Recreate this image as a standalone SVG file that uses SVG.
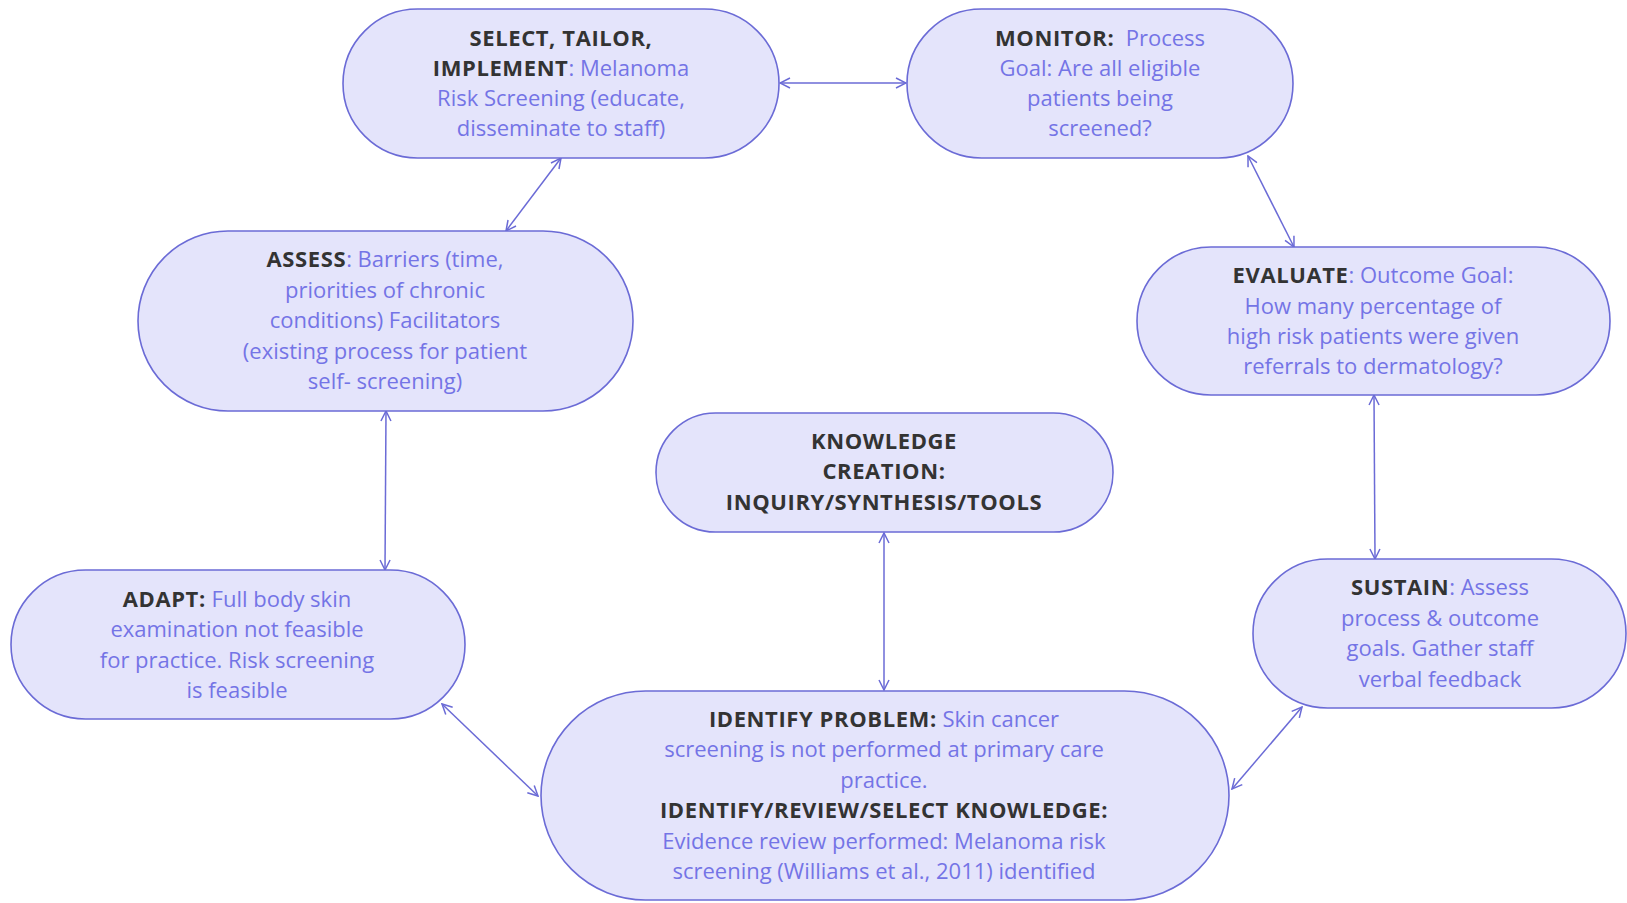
<svg xmlns="http://www.w3.org/2000/svg" width="1627" height="903" viewBox="0 0 1627 903">
<defs>
<marker id="arr" viewBox="0 0 12 12" refX="11" refY="6" markerWidth="12" markerHeight="12" markerUnits="userSpaceOnUse" orient="auto-start-reverse">
<path d="M1,1 L11,6 L1,11" fill="none" stroke="#6b6bd6" stroke-width="1.5"/>
</marker>
</defs>
<style>
.box{fill:#e4e4fb;stroke:#6b6bd6;stroke-width:1.6}
.t{font-family:"Open Sans","Noto Sans",sans-serif;font-size:22px;text-anchor:middle;fill:#7474e6}
.b{font-weight:bold;fill:#333333;letter-spacing:0.6px}
.c{fill:none;stroke:#6b6bd6;stroke-width:1.5;marker-start:url(#arr);marker-end:url(#arr)}
</style>
<rect width="1627" height="903" fill="#ffffff"/>
<g id="connectors">
<line class="c" x1="780" y1="83" x2="906" y2="83"/>
<line class="c" x1="561" y1="158" x2="506" y2="231"/>
<line class="c" x1="1248" y1="156" x2="1294" y2="247"/>
<line class="c" x1="386" y1="411" x2="385" y2="570"/>
<line class="c" x1="1374" y1="395" x2="1375" y2="559"/>
<line class="c" x1="884" y1="533" x2="884" y2="690"/>
<line class="c" x1="442" y1="704" x2="538" y2="796"/>
<line class="c" x1="1302" y1="707" x2="1232" y2="789"/>
</g>
<g id="select">
<rect class="box" x="343" y="9" width="436" height="149" rx="74.5"/>
<text class="t" x="561" y="46"><tspan class="b">SELECT, TAILOR,</tspan></text>
<text class="t" x="561" y="76"><tspan class="b">IMPLEMENT</tspan>: Melanoma</text>
<text class="t" x="561" y="106">Risk Screening (educate,</text>
<text class="t" x="561" y="136">disseminate to staff)</text>
</g>
<g id="monitor">
<rect class="box" x="907" y="9" width="386" height="149" rx="74.5"/>
<text class="t" x="1100" y="46"><tspan class="b">MONITOR:</tspan>&#160; Process</text>
<text class="t" x="1100" y="76">Goal: Are all eligible</text>
<text class="t" x="1100" y="106">patients being</text>
<text class="t" x="1100" y="136">screened?</text>
</g>
<g id="assess">
<rect class="box" x="138" y="231" width="495" height="180" rx="90"/>
<text class="t" x="385" y="267"><tspan class="b">ASSESS</tspan>: Barriers (time,</text>
<text class="t" x="385" y="298">priorities of chronic</text>
<text class="t" x="385" y="328">conditions) Facilitators</text>
<text class="t" x="385" y="359">(existing process for patient</text>
<text class="t" x="385" y="389">self- screening)</text>
</g>
<g id="evaluate">
<rect class="box" x="1137" y="247" width="473" height="148" rx="74"/>
<text class="t" x="1373" y="283"><tspan class="b">EVALUATE</tspan>: Outcome Goal:</text>
<text class="t" x="1373" y="314">How many percentage of</text>
<text class="t" x="1373" y="344">high risk patients were given</text>
<text class="t" x="1373" y="374">referrals to dermatology?</text>
</g>
<g id="knowledge">
<rect class="box" x="656" y="413" width="457" height="119" rx="59.5"/>
<text class="t b" x="884" y="449">KNOWLEDGE</text>
<text class="t b" x="884" y="479">CREATION:</text>
<text class="t b" x="884" y="510">INQUIRY/SYNTHESIS/TOOLS</text>
</g>
<g id="adapt">
<rect class="box" x="11" y="570" width="454" height="149" rx="74.5"/>
<text class="t" x="237" y="607"><tspan class="b">ADAPT:</tspan> Full body skin</text>
<text class="t" x="237" y="637">examination not feasible</text>
<text class="t" x="237" y="668">for practice. Risk screening</text>
<text class="t" x="237" y="698">is feasible</text>
</g>
<g id="sustain">
<rect class="box" x="1253" y="559" width="373" height="149" rx="74.5"/>
<text class="t" x="1440" y="595"><tspan class="b">SUSTAIN</tspan>: Assess</text>
<text class="t" x="1440" y="626">process &amp; outcome</text>
<text class="t" x="1440" y="656">goals. Gather staff</text>
<text class="t" x="1440" y="687">verbal feedback</text>
</g>
<g id="identify">
<rect class="box" x="541" y="691" width="688" height="209" rx="104.5"/>
<text class="t" x="884" y="727"><tspan class="b">IDENTIFY PROBLEM:</tspan> Skin cancer</text>
<text class="t" x="884" y="757">screening is not performed at primary care</text>
<text class="t" x="884" y="788">practice.</text>
<text class="t b" x="884" y="818">IDENTIFY/REVIEW/SELECT KNOWLEDGE:</text>
<text class="t" x="884" y="849">Evidence review performed: Melanoma risk</text>
<text class="t" x="884" y="879">screening (Williams et al., 2011) identified</text>
</g>
</svg>
